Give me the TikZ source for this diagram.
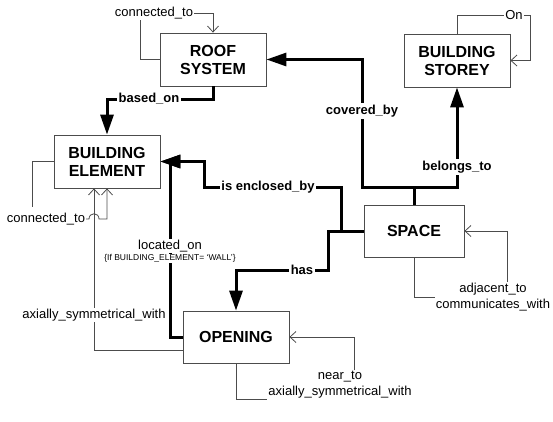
\documentclass[tikz,border=0pt]{standalone}
\usepackage{fontspec}
\setmainfont{Liberation Sans}
\usepackage{tikz}
\usetikzlibrary{arrows.meta, positioning, calc}

\begin{document}
\begin{tikzpicture}[
    x=1pt, y=-1pt,
    entity/.style={rectangle, draw=black!70, fill=white, line width=0.8pt, minimum width=106pt, minimum height=53pt, inner sep=0pt, align=center, font=\fontsize{16}{18}\selectfont\bfseries},
    rel/.style={line width=3pt, -{Triangle[length=20pt, width=13pt]}},
    relline/.style={line width=3pt},
    thinline/.style={draw=black!70, line width=0.8pt},
    thinarrow/.style={draw=black!70, line width=0.8pt, -{Straight Barb[length=6pt, width=11pt]}},
    rellabel/.style={fill=white, inner sep=1.5pt, font=\fontsize{13}{15}\selectfont\bfseries},
    rolelabel/.style={inner sep=1pt, align=center, font=\fontsize{13}{16}\selectfont}
]
\useasboundingbox (0,0) rectangle (553,421);

% Entities
\node[entity] (roof) at (213, 59.5) {ROOF\\SYSTEM};
\node[entity] (storey) at (457, 60.5) {BUILDING\\STOREY};
\node[entity] (elem) at (107, 161.5) {BUILDING\\ELEMENT};
\node[entity, minimum width=100pt, minimum height=52pt] (space) at (414, 231) {SPACE};
\node[entity, minimum height=52pt] (opening) at (236, 337) {OPENING};

% Bend points
\coordinate (jspace) at (414, 187);
\coordinate (cb) at (362, 187);
\coordinate (bt) at (457, 187);
\coordinate (ie1) at (341, 231);
\coordinate (ie2) at (341, 187);
\coordinate (ie3) at (204, 187);
\coordinate (hs1) at (328, 231);
\coordinate (hs2) at (328, 270);
\coordinate (bo1) at (213, 99);
\coordinate (lo1) at (170, 337);

% Thick relationships
\draw[rel] (roof.south) -- (bo1) -| (elem.north);
\draw[relline] (space.north) -- (jspace);
\draw[rel] (jspace) -- (cb) |- (roof.east);
\draw[rel] (jspace) -- (bt) -- (storey.south);
\draw[rel] (space.west) -- (ie1) -- (ie2) -- (ie3) |- (elem.east);
\draw[rel] (space.west) -- (hs1) -- (hs2) -| (opening.north);
\draw[rel] (opening.west) -- (lo1) |- (elem.east);

% Labels on thick relationships
\node[rellabel] (lbased) at (149, 99) {based\_on};
\node[rellabel] (lcovered) at (362, 111) {covered\_by};
\node[rellabel] (lbelongs) at (457, 167) {belongs\_to};
\node[rellabel] (lenclosed) at (268, 187) {is enclosed\_by};
\node[rellabel] (lhas) at (302, 270) {has};
\node[fill=white, inner sep=1pt, font=\fontsize{13}{15}\selectfont] (llocated) at (170, 246) {located\_on};
\node[fill=white, inner sep=1pt, font=\fontsize{8.5}{10}\selectfont] (lcond) at (170, 258.5) {\{If BUILDING\_ELEMENT= `WALL'\}};

% Self relationships and thin links
\node[rolelabel] (rconn) at (154, 13) {connected\_to};
\coordinate (rc1) at (140, 59.5);
\draw[thinline] (roof.west) -- (rc1) -- (rc1 |- rconn.south);
\draw[thinarrow] (rconn.east) -| (roof.north);

\node[rolelabel] (son) at (514, 15) {On};
\coordinate (so1) at (530, 15);
\draw[thinline] (storey.north) |- (son.west);
\draw[thinarrow] (son.east) -- (so1) |- (storey.east);

\node[rolelabel] (econn) at (46, 219) {connected\_to};
\coordinate (ec1) at (32, 207);
\coordinate (hop1) at (89, 219);
\coordinate (hop2) at (99, 219);
\coordinate (ec2) at (107, 219);
\draw[thinline] (elem.west) -| (ec1);
\draw[thinarrow] (econn.east) -- (hop1) .. controls (89, 212) and (99, 212) .. (hop2) -- (ec2) -- (elem.south);

\coordinate (ax1) at (94, 350);
\draw[thinarrow] (opening.west |- ax1) -- (ax1) -- (ax1 |- elem.south);
\node[fill=white, inner sep=1pt, font=\fontsize{13}{15}\selectfont] (laxial) at (94, 315) {axially\_symmetrical\_with};

\node[rolelabel] (sadj) at (493, 297) {adjacent\_to\\communicates\_with};
\coordinate (sa1) at (507, 231);
\draw[thinline] (space.south) |- (sadj.west);
\draw[thinarrow] (sa1 |- sadj.north) -- (sa1) -- (space.east);

\node[rolelabel] (onear) at (340, 385) {near\_to\\axially\_symmetrical\_with};
\coordinate (on1) at (354, 337);
\draw[thinline] (opening.south) |- (onear.south west);
\draw[thinarrow] (on1 |- onear.north) -- (on1) -- (opening.east);

\end{tikzpicture}
\end{document}
